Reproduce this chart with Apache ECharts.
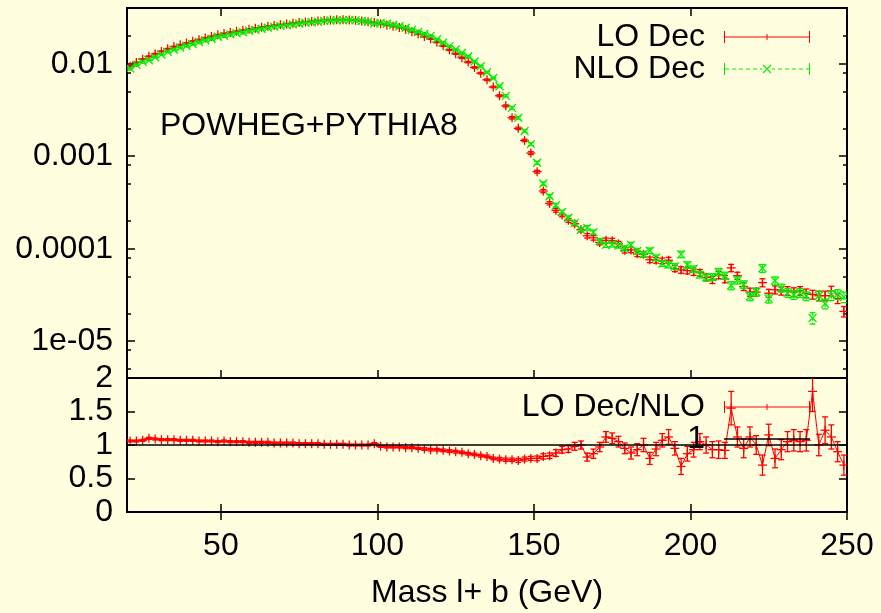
<!DOCTYPE html>
<html>
<head>
<meta charset="utf-8">
<script src="https://cdn.jsdelivr.net/npm/echarts/dist/echarts.min.js"></script>
<style>
  html, body { margin: 0; padding: 0; background: #ffffe0; }
  #chart { width: 881px; height: 613px; }
</style>
</head>
<body>
<div id="chart"></div>
<script>
// bin centres (GeV)
var masses = [21,23,25,27,29,31,33,35,37,39,41,43,45,47,49,51,53,55,57,59,
  61,63,65,67,69,71,73,75,77,79,81,83,85,87,89,91,93,95,97,99,
  101,103,105,107,109,111,113,115,117,119,121,123,125,127,129,131,133,135,137,139,
  141,143,145,147,149,151,153,155,157,159,161,163,165,167,169,171,173,175,177,179,
  181,183,185,187,189,191,193,195,197,199,201,203,205,207,209,211,213,215,217,219,
  221,223,225,227,229,231,233,235,237,239,241,243,245,247,249];

var loDec = [0.0094,0.0103,0.0112,0.0120,0.0128,0.0136,0.0145,0.0153,0.0160,0.0167,
  0.0175,0.0182,0.0190,0.0197,0.0205,0.0212,0.0218,0.0224,0.0230,0.0236,
  0.0242,0.0248,0.0254,0.0259,0.0264,0.0269,0.0274,0.0278,0.0282,0.0286,
  0.0290,0.0293,0.0296,0.0298,0.0298,0.0297,0.0294,0.0290,0.0284,0.0278,
  0.0270,0.0262,0.0254,0.0246,0.0235,0.0222,0.0209,0.0197,0.0186,0.0171,
  0.0156,0.0141,0.0128,0.0116,0.0104,0.0091,0.0079,0.0067,0.0056,0.0045,
  0.0035,0.0026,0.0020,0.00148,0.00108,0.00068,0.00042,0.00031,0.00026,0.000232,
  0.000203,0.000186,0.000160,0.000138,0.000131,0.000117,0.000123,0.000122,0.000113,0.000096,
  0.000097,0.000088,0.000087,0.000076,0.000075,0.000074,0.000075,0.000061,0.000059,0.000058,
  0.000056,0.000055,0.000049,0.000046,0.000052,0.000047,0.000062,0.000051,0.000039,0.000034,
  0.000034,0.000043,0.000033,0.000036,0.000035,0.000035,0.000034,0.000035,0.000033,0.000032,
  0.000031,0.000031,0.000035,0.000029,0.000021];

var nloDec = [0.00887,0.00972,0.01047,0.01091,0.01174,0.01259,0.01343,0.01417,0.01495,0.01561,
  0.01636,0.01717,0.01792,0.01858,0.01952,0.0200,0.02076,0.02133,0.0219,0.02269,
  0.02327,0.02385,0.02442,0.02515,0.02563,0.02612,0.0266,0.02725,0.02765,0.02804,
  0.02843,0.02901,0.02931,0.0295,0.0295,0.0297,0.0294,0.0290,0.0284,0.02725,
  0.02755,0.02701,0.02619,0.02536,0.02448,0.02313,0.0220,0.02096,0.0200,0.01839,
  0.01696,0.01549,0.01422,0.01303,0.01195,0.01058,0.0094,0.00807,0.0070,0.0057,
  0.00449,0.00333,0.0026,0.00187,0.00135,0.00085,0.000506,0.000369,0.000295,0.000249,
  0.000216,0.00019,0.00016,0.000168,0.000151,0.000121,0.00011,0.000111,0.000108,0.000101,
  0.00011,0.0000946,0.000087,0.000095,0.0000798,0.0000692,0.000067,0.0000642,0.0000868,0.0000667,
  0.0000602,0.0000524,0.000049,0.0000495,0.0000559,0.0000511,0.00004,0.0000455,0.000041,0.0000304,
  0.000034,0.0000614,0.0000287,0.000045,0.0000376,0.0000333,0.0000318,0.0000333,0.0000308,0.0000178,
  0.000031,0.0000254,0.0000313,0.0000322,0.00003];

// relative errors of the spectra
var loErr = [0.01,0.01,0.01,0.01,0.01,0.01,0.01,0.01,0.01,0.01,
  0.01,0.01,0.01,0.01,0.01,0.01,0.01,0.01,0.01,0.01,
  0.01,0.01,0.01,0.01,0.01,0.01,0.01,0.01,0.01,0.01,
  0.01,0.01,0.01,0.01,0.01,0.01,0.01,0.01,0.01,0.01,
  0.012,0.012,0.012,0.012,0.012,0.012,0.012,0.015,0.015,0.015,
  0.015,0.015,0.015,0.018,0.018,0.018,0.02,0.02,0.02,0.025,
  0.025,0.03,0.03,0.03,0.035,0.035,0.04,0.04,0.045,0.045,
  0.05,0.05,0.05,0.055,0.055,0.06,0.06,0.06,0.06,0.065,
  0.065,0.065,0.07,0.07,0.07,0.07,0.075,0.075,0.08,0.08,
  0.08,0.08,0.085,0.085,0.09,0.09,0.09,0.09,0.095,0.1,
  0.1,0.1,0.1,0.1,0.1,0.11,0.11,0.11,0.11,0.11,
  0.12,0.12,0.12,0.12,0.13];

var nloErr = [0.01,0.01,0.01,0.01,0.01,0.01,0.01,0.01,0.01,0.01,
  0.01,0.01,0.01,0.01,0.01,0.01,0.01,0.01,0.01,0.01,
  0.01,0.01,0.01,0.01,0.01,0.01,0.01,0.01,0.01,0.01,
  0.01,0.01,0.01,0.01,0.01,0.01,0.01,0.01,0.01,0.01,
  0.012,0.012,0.012,0.012,0.012,0.012,0.012,0.015,0.015,0.015,
  0.015,0.015,0.015,0.018,0.018,0.018,0.02,0.02,0.02,0.025,
  0.025,0.03,0.03,0.03,0.035,0.035,0.04,0.04,0.045,0.045,
  0.05,0.05,0.05,0.055,0.055,0.06,0.06,0.06,0.06,0.065,
  0.065,0.065,0.07,0.07,0.07,0.07,0.075,0.075,0.08,0.08,
  0.08,0.08,0.085,0.085,0.09,0.09,0.1,0.09,0.095,0.1,
  0.1,0.1,0.1,0.1,0.1,0.11,0.11,0.11,0.11,0.14,
  0.12,0.12,0.12,0.12,0.13];

var ratio = [1.06,1.06,1.07,1.10,1.09,1.08,1.08,1.08,1.07,1.07,
  1.07,1.06,1.06,1.06,1.05,1.06,1.05,1.05,1.05,1.04,
  1.04,1.04,1.04,1.03,1.03,1.03,1.03,1.02,1.02,1.02,
  1.02,1.01,1.01,1.01,1.01,1.00,1.00,1.00,1.00,1.02,
  0.98,0.97,0.97,0.97,0.96,0.96,0.95,0.94,0.93,0.93,
  0.92,0.91,0.90,0.89,0.87,0.86,0.84,0.83,0.80,0.79,
  0.78,0.78,0.77,0.79,0.80,0.80,0.83,0.84,0.88,0.93,
  0.94,0.98,1.00,0.82,0.87,0.97,1.12,1.10,1.05,0.95,
  0.88,0.93,1.00,0.80,0.94,1.07,1.12,0.95,0.68,0.87,
  0.93,1.05,1.00,0.93,0.93,0.92,1.55,1.12,0.95,1.12,
  1.00,0.70,1.15,0.80,0.93,1.05,1.07,1.05,1.07,1.80,
  1.00,1.22,1.12,0.90,0.70];

var ratioErr = [0.015,0.015,0.015,0.015,0.015,0.015,0.015,0.015,0.015,0.015,
  0.015,0.015,0.015,0.015,0.015,0.015,0.015,0.015,0.015,0.015,
  0.015,0.015,0.015,0.015,0.015,0.015,0.015,0.015,0.015,0.015,
  0.015,0.015,0.015,0.015,0.015,0.015,0.015,0.015,0.015,0.015,
  0.015,0.015,0.015,0.015,0.015,0.015,0.015,0.02,0.02,0.02,
  0.02,0.02,0.02,0.02,0.02,0.02,0.02,0.02,0.02,0.025,
  0.025,0.025,0.03,0.03,0.03,0.035,0.04,0.04,0.05,0.05,
  0.05,0.06,0.06,0.06,0.07,0.07,0.08,0.08,0.08,0.08,
  0.09,0.09,0.1,0.09,0.1,0.1,0.11,0.1,0.12,0.11,
  0.11,0.12,0.12,0.12,0.13,0.12,0.25,0.15,0.14,0.15,
  0.14,0.15,0.16,0.14,0.15,0.15,0.16,0.15,0.16,0.3,
  0.16,0.2,0.18,0.15,0.15];

var logMajor = [1e-5, 1e-4, 1e-3, 1e-2];
var logMinor = [5e-6, 8e-6, 2e-5, 5e-5, 8e-5, 2e-4, 5e-4, 8e-4, 2e-3, 5e-3, 8e-3, 2e-2];
var logLabels = { '-5': '1e-05', '-4': '0.0001', '-3': '0.001', '-2': '0.01' };
var ratioLabels = [0, 0.5, 1, 1.5, 2];
var ratioTicks = [0.5, 1, 1.5];
var massTicks = [50, 100, 150, 200, 250];

var FONT = 'Liberation Sans, Arial, sans-serif';
var FS = 32;

function build(vals, errs, relative) {
  return masses.map(function (m, i) {
    return [m, vals[i], relative ? vals[i] * errs[i] : errs[i]];
  });
}

function errRender(mark, dashed) {
  return function (params, api) {
    var x = api.value(0), y = api.value(1), e = api.value(2);
    var p = api.coord([x, y]);
    var t = api.coord([x, y + e]);
    var b = api.coord([x, y - e]);
    var color = api.visual('color');
    var st = { stroke: color, lineWidth: 1.3, lineDash: dashed ? [3, 2] : null };
    var ms = { stroke: color, lineWidth: 1.3 };
    var kids = [
      { type: 'line', shape: { x1: p[0], y1: t[1], x2: p[0], y2: b[1] }, style: st },
      { type: 'line', shape: { x1: p[0] - 3, y1: t[1], x2: p[0] + 3, y2: t[1] }, style: ms },
      { type: 'line', shape: { x1: p[0] - 3, y1: b[1], x2: p[0] + 3, y2: b[1] }, style: ms }
    ];
    if (mark === 'plus') {
      kids.push({ type: 'line', shape: { x1: p[0] - 4.5, y1: p[1], x2: p[0] + 4.5, y2: p[1] }, style: ms });
      kids.push({ type: 'line', shape: { x1: p[0], y1: p[1] - 4.5, x2: p[0], y2: p[1] + 4.5 }, style: ms });
    } else {
      kids.push({ type: 'line', shape: { x1: p[0] - 4, y1: p[1] - 4, x2: p[0] + 4, y2: p[1] + 4 }, style: ms });
      kids.push({ type: 'line', shape: { x1: p[0] - 4, y1: p[1] + 4, x2: p[0] + 4, y2: p[1] - 4 }, style: ms });
    }
    return { type: 'group', children: kids };
  };
}

// legend samples, 86 x 12
var iconErr = 'path://M0 0H1V12H0Z M85 0H86V12H85Z M0 5.5H86V6.5H0Z M42.5 3H43.5V9H42.5Z';
var iconDash = 'path://M0 0H1V12H0Z M85 0H86V12H85Z' +
  ' M1 5.5H5V6.5H1Z M8 5.5H12V6.5H8Z M15 5.5H19V6.5H15Z M22 5.5H26V6.5H22Z M29 5.5H33V6.5H29Z M36 5.5H38V6.5H36Z' +
  ' M48 5.5H51V6.5H48Z M54 5.5H58V6.5H54Z M61 5.5H65V6.5H61Z M68 5.5H72V6.5H68Z M75 5.5H79V6.5H75Z M82 5.5H85V6.5H82Z' +
  ' M38.6 2.4L39.4 1.6L47.4 9.6L46.6 10.4Z M46.6 1.6L47.4 2.4L39.4 10.4L38.6 9.6Z';
var iconLine = 'path://M0 0H86V1.5H0Z';

var chart = echarts.init(document.getElementById('chart'), null, { renderer: 'canvas' });

function yTickAxis(grid, pos, type, ticks, len, extra) {
  var ax = {
    gridIndex: grid, type: type, position: pos,
    axisLine: { show: false }, splitLine: { show: false },
    axisTick: { show: true, inside: true, length: len, customValues: ticks, lineStyle: { color: '#000', width: 1.5 } },
    axisLabel: { show: false }
  };
  if (type === 'log') { ax.min = 4e-6; ax.max = 0.04; ax.logBase = 10; }
  else { ax.min = 0; ax.max = 2; }
  return Object.assign(ax, extra || {});
}

function xTickAxis(grid, pos, extra) {
  return Object.assign({
    gridIndex: grid, type: 'value', position: pos, min: 20, max: 250,
    axisLine: { show: false }, splitLine: { show: false },
    axisTick: { show: true, inside: true, length: 8, customValues: massTicks, lineStyle: { color: '#000', width: 1.5 } },
    axisLabel: { show: false }
  }, extra || {});
}

var option = {
  backgroundColor: '#ffffe0',
  animation: false,
  textStyle: { fontFamily: FONT },
  grid: [
    { left: 127, top: 8, width: 720, height: 370, show: true, borderColor: '#000', borderWidth: 2, backgroundColor: 'transparent', outerBoundsMode: 'none' },
    { left: 127, top: 378, width: 720, height: 134, show: true, borderColor: '#000', borderWidth: 2, backgroundColor: 'transparent', outerBoundsMode: 'none' }
  ],
  xAxis: [
    xTickAxis(0, 'bottom'),
    xTickAxis(0, 'top'),
    xTickAxis(1, 'bottom', {
      axisLabel: { show: true, customValues: massTicks, margin: 18, fontSize: FS, color: '#000', fontFamily: FONT },
      name: 'Mass l+ b (GeV)', nameLocation: 'middle', nameGap: 65,
      nameTextStyle: { fontSize: FS, color: '#000', fontFamily: FONT }
    }),
    xTickAxis(1, 'top')
  ],
  yAxis: [
    yTickAxis(0, 'left', 'log', logMajor, 8, {
      axisLabel: {
        show: true, customValues: logMajor, margin: 14, fontSize: FS, color: '#000', fontFamily: FONT,
        formatter: function (v) { return logLabels[String(Math.round(Math.log10(v)))] || ''; }
      }
    }),
    yTickAxis(0, 'left', 'log', logMinor, 4),
    yTickAxis(0, 'right', 'log', logMajor, 8),
    yTickAxis(0, 'right', 'log', logMinor, 4),
    yTickAxis(1, 'left', 'value', ratioTicks, 8, {
      axisLabel: {
        show: true, customValues: ratioLabels, margin: 14, fontSize: FS, color: '#000', fontFamily: FONT,
        formatter: function (v) { return String(v); }
      }
    }),
    yTickAxis(1, 'right', 'value', ratioTicks, 8)
  ],
  legend: [
    {
      orient: 'vertical', align: 'right', right: 66, top: 16, itemGap: 0,
      itemWidth: 86, itemHeight: 12,
      textStyle: { fontSize: FS, color: '#000', fontFamily: FONT, lineHeight: 32, padding: [0, 14, 0, 0] },
      data: [{ name: 'LO Dec', icon: iconErr }, { name: 'NLO Dec', icon: iconDash }]
    },
    {
      orient: 'vertical', align: 'right', right: 66, top: 386, itemGap: 0,
      itemWidth: 86, itemHeight: 12,
      textStyle: { fontSize: FS, color: '#000', fontFamily: FONT, lineHeight: 32, padding: [0, 14, 0, 0] },
      data: [{ name: 'LO Dec/NLO', icon: iconErr }, { name: '1', icon: iconLine }]
    }
  ],
  graphic: [
    { type: 'text', left: 160, top: 110, style: { text: 'POWHEG+PYTHIA8', fontSize: FS, fill: '#000', fontFamily: FONT } }
  ],
  series: [
    {
      name: 'LO Dec', type: 'custom', xAxisIndex: 0, yAxisIndex: 0, clip: true,
      itemStyle: { color: '#ff0000' },
      renderItem: errRender('plus', false),
      data: build(loDec, loErr, true)
    },
    {
      name: 'NLO Dec', type: 'custom', xAxisIndex: 0, yAxisIndex: 0, clip: true,
      itemStyle: { color: '#00ee00' },
      renderItem: errRender('cross', true),
      data: build(nloDec, nloErr, true)
    },
    {
      name: 'LO Dec/NLO', type: 'line', xAxisIndex: 2, yAxisIndex: 4, symbol: 'none',
      itemStyle: { color: '#ff0000' }, lineStyle: { color: '#ff0000', width: 1 },
      data: masses.map(function (m, i) { return [m, ratio[i]]; })
    },
    {
      name: 'LO Dec/NLO', type: 'custom', xAxisIndex: 2, yAxisIndex: 4, clip: true,
      itemStyle: { color: '#ff0000' },
      renderItem: errRender('plus', false),
      data: build(ratio, ratioErr, false)
    },
    {
      name: '1', type: 'line', xAxisIndex: 2, yAxisIndex: 4, symbol: 'none',
      itemStyle: { color: '#000' }, lineStyle: { color: '#000', width: 1.5 },
      data: [[20, 1], [250, 1]]
    }
  ]
};

chart.setOption(option);
</script>
</body>
</html>
